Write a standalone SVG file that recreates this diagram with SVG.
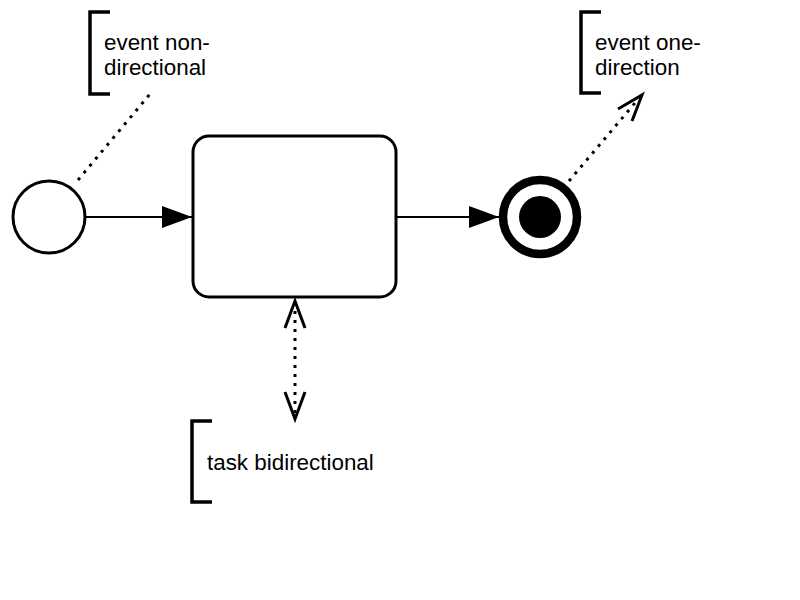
<svg xmlns="http://www.w3.org/2000/svg" width="800" height="600" viewBox="0 0 800 600">
<style>
.lbl{font-family:"Liberation Sans",Arial,sans-serif;font-size:22.4px;fill:#000}
.brk{fill:none;stroke:#000;stroke-width:3.5}
.flow{fill:none;stroke:#000;stroke-width:2.2}
.assoc{fill:none;stroke:#000;stroke-width:3;stroke-dasharray:3 6}
.open{fill:none;stroke:#000;stroke-width:3;stroke-linejoin:miter}
</style>
<defs>
<marker id="fill" viewBox="0 0 30 22" refX="30" refY="11" markerWidth="30" markerHeight="22" markerUnits="userSpaceOnUse" orient="auto">
<path d="M0,0 L30,11 L0,22 Z" fill="#000"/>
</marker>
</defs>
<rect width="800" height="600" fill="#fff"/>
<g id="connectors">
<line class="flow" x1="86" y1="217" x2="192" y2="217" marker-end="url(#fill)"/>
<line class="flow" x1="396" y1="217" x2="499" y2="217" marker-end="url(#fill)"/>
<line class="assoc" x1="78" y1="180" x2="150" y2="94"/>
<line class="assoc" x1="569" y1="181" x2="640" y2="97"/>
<path class="open" d="M618,109 L642,95 L632,121"/>
<line class="assoc" x1="295" y1="302" x2="295" y2="418"/>
<path class="open" d="M285,328 L295,301 L305,328"/>
<path class="open" d="M285,392 L295,419 L305,392"/>
</g>
<g id="start-event">
<circle cx="49" cy="217" r="36" fill="#fff" stroke="#000" stroke-width="3"/>
</g>
<g id="task">
<rect x="193" y="136" width="203" height="161" rx="16" fill="#fff" stroke="#000" stroke-width="3"/>
</g>
<g id="end-event">
<circle cx="540" cy="217" r="37" fill="#fff" stroke="#000" stroke-width="8.5"/>
<circle cx="540" cy="217" r="21" fill="#000"/>
</g>
<g id="annotation-event-non-directional">
<path class="brk" d="M110,12 L90,12 L90,94 L110,94"/>
<text class="lbl" x="104" y="50">event non-</text>
<text class="lbl" x="104" y="75">directional</text>
</g>
<g id="annotation-event-one-direction">
<path class="brk" d="M601,12 L581,12 L581,93 L601,93"/>
<text class="lbl" x="595" y="50">event one-</text>
<text class="lbl" x="595" y="75">direction</text>
</g>
<g id="annotation-task-bidirectional">
<path class="brk" d="M212,421 L192,421 L192,502 L212,502"/>
<text class="lbl" x="207" y="470">task bidirectional</text>
</g>
</svg>
